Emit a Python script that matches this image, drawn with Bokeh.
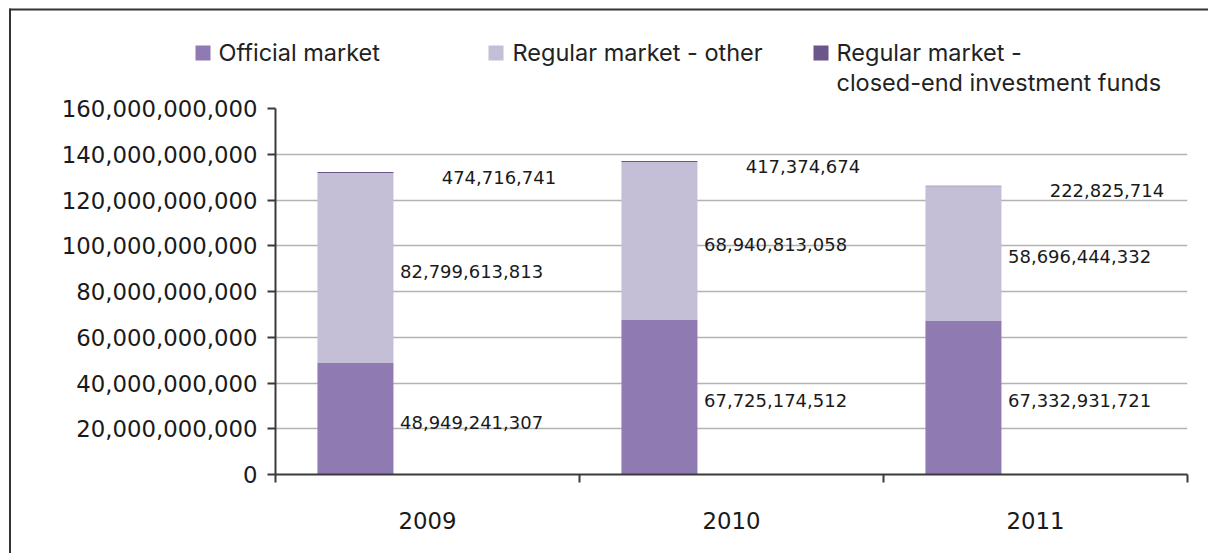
from bokeh.plotting import figure
from bokeh.layouts import column, row
from bokeh.models import (ColumnDataSource, Range1d, FixedTicker, NumeralTickFormatter,
                          Div, Spacer)
from bokeh.core.properties import value
from bokeh.embed import file_html
from bokeh.resources import INLINE

# ---------------- data ----------------
years = ["2009", "2010", "2011"]
official = [48949241307, 67725174512, 67332931721]
regular_other = [82799613813, 68940813058, 58696444332]
closed_end = [474716741, 417374674, 222825714]
series_labels = ["Official market", "Regular market - other",
                 "Regular market -\nclosed-end investment funds"]
y_ticks = [0, 20000000000, 40000000000, 60000000000, 80000000000,
           100000000000, 120000000000, 140000000000, 160000000000]

# ---------------- style ----------------
colors = ["#8f7bb2", "#c4bfd6", "#6b5689"]
axis_color = "#3a3a3a"
border_color = "#333333"
text_color = "#1a1a1a"

W, H = 1208, 553
LEG_H = 96
SIDE_W = 11

n = len(years)
idx = list(range(n))

# ---------------- legend strip ----------------
leg = figure(width=W, height=LEG_H, x_range=Range1d(0, W), y_range=Range1d(LEG_H, 0),
             output_backend="svg", toolbar_location=None,
             x_axis_location=None, y_axis_location=None,
             min_border=0, min_border_left=0, min_border_right=0,
             min_border_top=0, min_border_bottom=0)
leg.outline_line_color = None
leg.xgrid.visible = False
leg.ygrid.visible = False
# outer frame edges (top and left)
leg.segment(x0=[9, 9.5], y0=[9, 8], x1=[W, 9.5], y1=[9, LEG_H],
            line_color=border_color, line_width=2)
sq_left = [195, 488, 813]
txt_left = [218, 512, 836]
leg.quad(left=sq_left, right=[v + 15 for v in sq_left], top=[45] * 3, bottom=[60] * 3,
         fill_color=colors, line_color=None)
leg_lines = []
for k, s in enumerate(series_labels):
    for j, part in enumerate(s.split("\n")):
        leg_lines.append((txt_left[k], 52 + 30 * j, part))
leg.text(x=[a for a, _, _ in leg_lines], y=[b for _, b, _ in leg_lines],
         text=[c for _, _, c in leg_lines],
         text_font=value("Inter"), text_font_size="23.5px", text_color="#222222",
         text_baseline="middle", text_align="left")

# ---------------- left border strip ----------------
gap = Spacer(width=9, height=H - LEG_H, margin=0)
edge = Div(text="", width=2, height=H - LEG_H, margin=0,
           styles={"background-color": border_color})

# ---------------- main chart ----------------
p = figure(x_range=Range1d(0, n), y_range=Range1d(y_ticks[0], y_ticks[-1]),
           width=W - SIDE_W, height=H - LEG_H, output_backend="svg", toolbar_location=None,
           min_border_left=275 - SIDE_W, min_border_right=21, min_border_top=108 - LEG_H,
           min_border_bottom=79)
p.outline_line_color = None

bar_src = ColumnDataSource(dict(
    x=[i + 0.263 for i in idx],
    official=official, other=regular_other, closed=closed_end))
p.vbar_stack(["official", "other", "closed"], x="x", width=0.25, source=bar_src,
             fill_color=colors, line_color=None)

# data labels
lx, ly, lt, loff = [], [], [], []
for i in idx:
    segs = [official[i], regular_other[i], closed_end[i]]
    bottom = 0
    for k, v in enumerate(segs):
        lx.append(i + (0.735 if k == 2 else 0.645))
        ly.append(bottom + v / 2)
        lt.append(f"{v:,}")
        loff.append(5 if k == 2 else 3.5)
        bottom += v
lab_src = ColumnDataSource(dict(x=lx, y=ly, t=lt, off=loff))
p.text(x="x", y="y", text="t", source=lab_src, y_offset="off",
       text_font=value("DejaVu Sans"), text_font_size="18px",
       text_align="center", text_baseline="middle", text_color=text_color)

# y axis
yax = p.yaxis[0]
yax.ticker = FixedTicker(ticks=y_ticks)
yax.formatter = NumeralTickFormatter(format="0,0")
yax.axis_line_color = axis_color
yax.axis_line_width = 2
yax.major_tick_line_color = axis_color
yax.major_tick_line_width = 2
yax.major_tick_out = 8
yax.major_tick_in = 0
yax.minor_tick_line_color = None
yax.major_label_text_font = "DejaVu Sans"
yax.major_label_text_font_size = "22.8px"
yax.major_label_text_color = text_color
yax.major_label_standoff = 10

# x axis: labels at category centres, ticks at category boundaries
xax = p.xaxis[0]
xax.ticker = FixedTicker(ticks=[i + 0.5 for i in idx], minor_ticks=list(range(n + 1)))
xax.major_label_overrides = {i + 0.5: years[i] for i in idx}
xax.axis_line_color = axis_color
xax.axis_line_width = 2
xax.major_tick_line_color = None
xax.major_tick_out = 0
xax.major_tick_in = 0
xax.minor_tick_line_color = axis_color
xax.minor_tick_line_width = 2
xax.minor_tick_out = 8
xax.minor_tick_in = 0
xax.major_label_text_font = "DejaVu Sans"
xax.major_label_text_font_size = "22.8px"
xax.major_label_text_color = text_color
xax.major_label_standoff = 29

p.xgrid.visible = False
p.ygrid.grid_line_color = "#b3b3b3"
p.ygrid.grid_line_width = 1.5

layout = column(leg, row(gap, edge, p, spacing=0), spacing=0)
open("out.html", "w").write(file_html(layout, INLINE))
